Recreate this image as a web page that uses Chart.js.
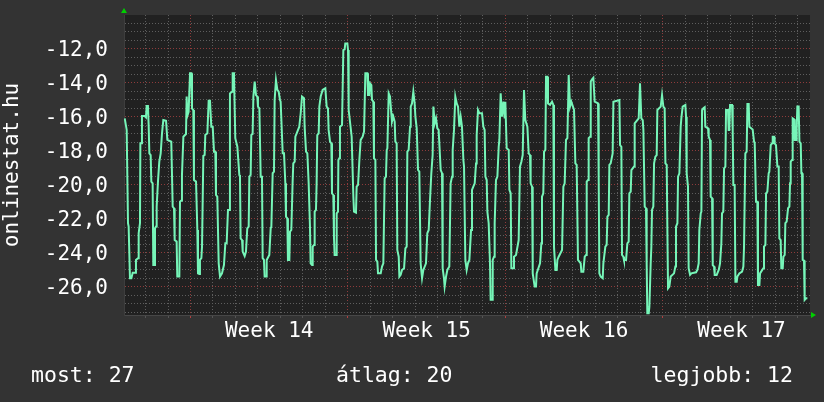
<!DOCTYPE html>
<html>
<head>
<meta charset="utf-8">
<title>onlinestat.hu</title>
<script src="https://cdn.jsdelivr.net/npm/chart.js@4.4.1/dist/chart.umd.min.js"></script>
<style>
  html, body { margin: 0; padding: 0; background: #333333; }
  #wrap { position: relative; width: 824px; height: 402px; overflow: hidden; }
  canvas { display: block; }
  .stat {
    position: absolute; top: 363px; line-height: 24px;
    font-family: "DejaVu Sans Mono", monospace; font-size: 21.5px;
    color: #ffffff; white-space: pre;
  }
</style>
</head>
<body>
<div id="wrap">
  <canvas id="chart" width="824" height="402"></canvas>
  <div class="stat" id="stat0" style="left:31px"></div>
  <div class="stat" id="stat1" style="left:336px"></div>
  <div class="stat" id="stat2" style="right:31px"></div>
</div>
<script>
// hours since the start of Week 14
const hours = [
  -70.2, -68.1, -66.7, -66.0, -64.6, -63.1, -61.7, -58.9, -58.2, -56.0, -55.3, -53.9, -53.5, -52.5, -51.8, -48.9,
  -47.5, -46.8, -45.4, -44.6, -43.9, -42.5, -41.8, -40.4, -39.7, -38.2, -37.9, -36.8, -36.1, -34.7, -33.3, -31.8,
  -30.4, -29.0, -26.1, -24.7, -20.5, -19.0, -17.6, -16.9, -14.8, -14.1, -11.9, -11.2, -9.8, -9.1, -7.6, -4.8,
  -4.1, -3.4, -2.0, -0.5, 0.9, 1.6, 3.0, 3.7, 5.9, 7.3, 8.0, 9.4, 10.1, 11.6, 12.3, 13.7,
  15.1, 15.8, 18.0, 19.4, 20.8, 22.2, 23.7, 25.1, 26.5, 27.2, 28.6, 30.1, 31.5, 33.6, 35.7, 37.2,
  38.6, 40.0, 41.4, 42.1, 44.3, 45.0, 46.4, 47.8, 50.0,
  52.1, 52.8, 53.5, 55.0, 55.7, 57.8, 59.2, 60.6, 62.1, 62.8, 64.2, 64.9, 66.3, 67.1, 68.5, 69.9,
  71.3, 72.0, 73.5, 74.9, 76.3, 77.0, 78.4, 79.1, 80.6, 81.3, 84.1, 85.6, 86.3, 87.7, 89.1, 89.8,
  91.2, 92.7, 94.1, 95.5, 96.2, 98.4, 99.8, 101.2, 101.9, 103.3, 104.0, 105.5, 106.2, 107.6, 109.0, 109.7,
  111.2, 111.9, 113.3, 116.1, 117.6, 119.0, 121.1, 121.8, 123.3, 124.7, 126.1, 127.5, 128.2, 129.7, 130.4, 131.8,
  132.5, 133.9, 134.6, 135.3, 136.8, 137.5, 138.9, 141.0, 143.9, 145.3, 146.7, 147.4, 148.9, 150.3, 151.0, 152.4,
  153.1, 153.8, 155.3, 156.0, 157.4, 157.8, 158.8, 159.5, 161.7, 163.1, 164.5, 165.2, 167.4, 168.1, 168.8, 172.0,
  173.8,
  174.5, 176.6, 177.3, 178.8, 180.2, 181.6, 183.7, 185.2, 186.6, 188.7, 189.4, 190.9, 191.6, 193.0, 193.7, 195.1,
  195.8, 197.3, 198.0, 199.4, 200.1, 203.0, 204.4, 205.8, 207.2, 208.6, 209.4, 210.1, 211.5, 212.9, 214.3, 215.0,
  216.5, 217.9, 218.6, 220.0, 220.7, 222.2, 222.9, 224.3, 225.7, 227.9, 229.3, 230.7, 231.4, 232.8, 234.3, 235.0,
  236.4, 237.8, 239.2, 240.0, 241.4, 242.8, 244.2, 245.6, 247.1, 248.5, 251.3, 252.7, 254.2, 255.6, 257.0, 258.4,
  259.2, 260.6, 262.0, 263.4, 264.8, 267.0, 268.4, 269.1, 270.5, 271.2, 272.7, 274.1, 276.2, 277.6, 279.1, 279.8,
  281.2, 282.6, 284.1, 285.5, 286.9, 288.3, 289.7, 291.2, 291.9, 293.3, 294.7, 296.1, 297.6, 299.4,
  300.4, 301.8, 303.3, 304.7, 305.4, 306.8, 308.2, 311.1, 312.5, 313.9, 314.7, 316.1, 316.8, 318.2, 319.6, 320.3,
  321.8, 322.5, 323.9, 324.6, 326.0, 327.5, 328.9, 329.6, 331.0, 332.4, 333.9, 335.3, 336.0, 337.4, 339.6, 340.3,
  341.7, 342.4, 344.5, 345.2, 347.4, 350.2, 351.6, 353.1, 354.5, 355.9, 357.3, 359.5, 360.9, 362.3, 363.0, 364.5,
  365.2, 367.3, 368.7, 369.4, 373.0, 374.4, 375.1, 376.5, 377.3, 378.7, 379.4, 380.8, 381.5, 383.7, 385.8, 387.2,
  387.9, 389.4, 390.8, 391.5, 392.9, 396.5, 397.9, 399.3, 400.7, 402.2, 403.6, 405.0, 406.4, 409.3, 410.7, 412.1,
  413.5, 416.4, 417.1, 419.2, 420.7, 422.1,
  422.8, 424.2, 424.9, 426.4, 427.1, 428.5, 429.9, 431.3, 434.9, 435.6, 436.3, 437.7, 439.9, 440.6, 442.7, 444.1,
  444.9, 446.3, 447.0, 448.4, 450.5, 451.3, 457.7, 458.4, 459.8, 460.5, 461.9, 462.6, 464.8, 466.2, 467.6, 468.3,
  469.8, 470.5, 473.3, 474.0, 478.3, 479.7, 481.1, 482.6, 483.3, 484.7, 486.1, 486.8, 487.5, 489.0, 489.7, 491.1,
  491.8, 492.5, 493.9, 494.7, 496.1, 497.5, 498.2, 501.8, 503.2, 504.6, 506.0, 506.8, 508.2, 508.9, 509.6, 511.0,
  512.4, 516.0, 517.4, 518.1, 519.6, 520.3, 521.7, 523.1, 523.8, 525.2, 528.1, 528.8, 529.5, 530.9, 531.6, 533.1,
  534.5, 539.5, 540.9, 542.3, 543.0, 544.5, 545.2, 545.9, 547.3,
  548.7, 549.4, 552.3, 553.0, 554.4, 555.1, 556.6, 557.3, 558.7, 559.4, 561.5, 563.7, 565.1, 566.5, 567.2, 568.6,
  569.4, 570.8, 571.5, 573.6, 574.3, 575.0, 575.8, 577.9, 578.6, 579.3, 580.7, 581.5, 582.9, 583.6, 585.7, 588.6,
  590.0, 590.7, 592.1, 593.5, 594.3, 595.7, 596.4, 599.9, 601.4, 602.1, 603.5, 604.9, 605.6, 607.1, 607.8, 611.3,
  612.0, 613.5, 614.2, 615.6, 617.0, 617.7, 619.2, 620.6, 621.3, 622.7, 623.4, 624.8, 626.3, 627.7, 628.4, 629.8,
  630.5, 632.0, 632.7, 634.1, 634.8, 636.2, 637.7, 639.1, 639.8, 640.5, 641.9, 642.6, 644.1, 644.8, 646.2, 646.9,
  647.6, 649.0, 649.8, 651.2, 651.9, 652.6, 653.3, 654.7, 655.4, 656.9, 658.3
];

// negated rank on onlinestat.hu
const rank = [
  -16.08, -16.76, -22.25, -22.45, -25.49, -25.49, -25.16, -25.16, -24.41, -24.31, -22.84, -22.25, -17.55, -17.55, -15.94, -15.94,
  -16.02, -15.35, -15.35, -16.57, -18.14, -18.24, -19.80, -19.90, -24.71, -24.71, -22.55, -22.45, -21.27, -19.80, -18.63, -18.14,
  -16.96, -16.18, -16.22, -17.35, -17.45, -21.27, -21.37, -23.24, -23.33, -25.39, -25.39, -20.98, -20.92, -19.41, -17.16, -17.00,
  -14.80, -15.94, -15.69, -13.43, -13.43, -15.49, -15.59, -19.71, -19.80, -22.65, -25.20, -25.24, -24.41, -24.31, -23.63, -18.29,
  -18.24, -17.06, -16.96, -15.04, -15.04, -16.57, -16.57, -18.04, -18.04, -20.59, -20.69, -24.61, -25.39, -25.20, -24.71, -23.43,
  -23.43, -21.47, -21.47, -14.61, -14.51, -13.43, -13.43, -17.25, -17.75,
  -19.41, -19.51, -23.14, -23.24, -23.92, -24.18, -23.92, -22.55, -22.45, -19.51, -19.41, -17.06, -17.00, -14.80, -13.92, -14.71,
  -14.80, -15.39, -15.49, -19.51, -19.51, -24.31, -24.41, -25.39, -25.39, -24.41, -24.12, -22.55, -22.45, -19.31, -19.22, -15.00,
  -13.82, -14.41, -14.51, -15.00, -15.10, -18.14, -18.14, -19.90, -21.86, -21.96, -24.41, -24.41, -22.75, -22.65, -19.80, -18.73,
  -18.63, -17.16, -16.96, -16.57, -15.78, -14.80, -14.90, -16.57, -18.04, -18.14, -19.90, -22.45, -24.61, -24.71, -23.63, -23.53,
  -21.57, -21.47, -19.90, -17.06, -16.96, -15.39, -14.80, -14.41, -14.31, -15.39, -15.49, -16.76, -17.45, -17.55, -20.49, -20.59,
  -23.04, -24.12, -24.12, -21.67, -21.57, -18.53, -18.43, -16.57, -16.47, -12.06, -12.02, -11.67, -11.67, -12.06, -15.59, -17.16,
  -20.69,
  -21.57, -21.63, -20.10, -20.00, -18.53, -17.35, -17.16, -16.86, -13.43, -13.43, -14.71, -14.71, -14.02, -14.12, -15.00, -15.10,
  -18.43, -18.53, -24.41, -24.51, -25.20, -25.20, -24.80, -24.61, -19.61, -19.51, -17.94, -17.84, -14.61, -14.80, -15.78, -16.27,
  -15.98, -16.27, -17.45, -17.55, -23.82, -24.22, -25.39, -25.29, -25.00, -24.90, -23.73, -23.63, -18.04, -17.94, -16.57, -15.39,
  -15.20, -14.51, -15.20, -15.98, -16.67, -19.12, -19.22, -24.61, -25.49, -25.00, -24.61, -22.84, -22.65, -20.88, -19.31, -18.24,
  -15.39, -16.37, -16.08, -16.67, -16.76, -19.12, -19.31, -24.90, -25.49, -25.98, -25.39, -25.00, -24.80, -19.90, -19.51, -17.94,
  -16.76, -14.80, -15.20, -15.39, -16.57, -15.98, -16.57, -18.53, -18.92, -24.41, -25.00, -24.61, -24.41, -22.65,
  -20.29, -20.10, -19.90, -18.73, -17.06, -15.59, -15.78, -15.78, -16.57, -16.76, -19.51, -19.71, -21.57, -22.25, -24.61, -26.76,
  -26.76, -24.41, -24.22, -22.25, -19.71, -19.51, -17.75, -17.35, -14.61, -15.98, -15.10, -16.08, -15.10, -17.84, -17.94, -20.29,
  -20.49, -24.90, -24.90, -24.22, -24.12, -23.24, -18.92, -18.63, -18.24, -14.41, -16.18, -16.57, -18.14, -18.24, -19.90, -20.10,
  -25.20, -25.98, -25.98, -25.20, -24.61, -23.43, -20.69, -20.49, -18.04, -17.94, -13.63, -13.63, -15.20, -15.29, -15.10, -15.29,
  -23.63, -25.00, -25.00, -24.41, -24.22, -23.82, -20.10, -19.90, -17.35, -17.25, -13.53, -15.39, -15.10, -15.59, -18.73, -18.82,
  -24.41, -24.61, -25.10, -25.10, -24.22, -24.12,
  -19.80, -19.71, -17.25, -17.16, -13.92, -13.78, -13.69, -15.10, -15.20, -19.51, -25.20, -25.39, -25.49, -24.61, -23.63, -23.53,
  -21.86, -21.76, -18.82, -18.73, -18.14, -15.10, -15.00, -17.65, -17.75, -24.12, -24.22, -24.41, -24.41, -23.43, -23.33, -20.49,
  -20.39, -19.12, -18.92, -16.37, -16.08, -14.02, -16.08, -16.18, -16.76, -21.27, -21.37, -24.61, -27.55, -27.55, -27.16, -24.61,
  -23.63, -21.47, -21.27, -18.73, -18.33, -18.24, -15.59, -15.39, -14.71, -15.39, -15.49, -18.73, -18.82, -22.65, -26.08, -25.98,
  -25.39, -25.20, -24.80, -22.45, -22.25, -19.51, -19.31, -16.57, -16.08, -15.39, -15.29, -15.98, -19.31, -20.10, -24.90, -25.29,
  -25.20, -25.14, -25.00, -24.61, -22.65, -21.67, -21.57, -15.59, -15.49,
  -15.43, -16.57, -16.67, -17.16, -17.35, -20.69, -20.78, -24.71, -24.80, -25.29, -25.29, -25.00, -24.61, -23.43, -21.67, -21.57,
  -19.02, -18.92, -15.59, -15.59, -16.76, -16.76, -15.29, -15.29, -16.76, -20.00, -20.00, -25.69, -25.69, -25.39, -25.20, -25.10,
  -24.80, -23.63, -18.14, -18.04, -15.24, -15.24, -16.57, -16.73, -17.45, -17.55, -20.98, -20.98, -25.88, -25.88, -25.20, -24.90,
  -23.63, -23.53, -20.49, -20.39, -19.31, -19.22, -17.65, -17.55, -17.16, -17.16, -17.55, -17.65, -18.92, -18.92, -23.14, -23.24,
  -24.90, -24.90, -24.22, -24.12, -22.25, -22.16, -21.37, -21.27, -19.90, -18.63, -18.53, -16.08, -16.14, -17.35, -17.35, -16.67,
  -15.39, -15.39, -17.45, -17.55, -19.31, -19.31, -24.41, -24.45, -26.76, -26.67, -26.67
];

const weekNames = ["Week 14", "Week 15", "Week 16", "Week 17"];
const weekMidHours = [84, 252, 420, 588];
const dayLineHours = [-48, -24, 0, 24, 48, 72, 96, 120, 144, 168, 192, 216, 240, 264, 288, 312, 336,
  360, 384, 408, 432, 456, 480, 504, 528, 552, 576, 600, 624, 648];
const statTexts = ["most: 27", "átlag: 20", "legjobb: 12"];

const X_MIN = -70.96, X_MAX = 661.1;
const Y_MIN = -27.65, Y_MAX = -10;

statTexts.forEach((t, i) => { document.getElementById("stat" + i).textContent = t; });

const MONO = "'DejaVu Sans Mono', monospace";
const MINOR = "#5e5e5e";
const MAJOR = "#8e3b3b";
const NONE = "rgba(0,0,0,0)";

const points = hours.map((h, i) => ({ x: h, y: rank[i] }));

const yTicks = [];
for (let k = -55; k <= -21; k++) yTicks.push(k / 2);

const xTicks = dayLineHours.concat(weekMidHours).sort((a, b) => a - b);

function isWeekLine(v) { return v % 168 === 0; }
function isMajorY(v) { return Number.isInteger(v) && v % 2 === 0 && v >= -26 && v <= -12; }

const frame = {
  id: "frame",
  beforeDraw(chart) {
    const { ctx, chartArea: a } = chart;
    ctx.save();
    ctx.fillStyle = "#333333";
    ctx.fillRect(0, 0, chart.width, chart.height);
    ctx.fillStyle = "#212121";
    ctx.fillRect(a.left, a.top, a.right - a.left, a.bottom - a.top);
    ctx.restore();
  },
  afterDraw(chart) {
    const { ctx, chartArea: a } = chart;
    ctx.save();
    ctx.fillStyle = "#00d000";
    ctx.beginPath();
    ctx.moveTo(a.left - 3, a.top - 2);
    ctx.lineTo(a.left + 3, a.top - 2);
    ctx.lineTo(a.left, a.top - 7);
    ctx.fill();
    ctx.beginPath();
    ctx.moveTo(a.right + 1, a.bottom - 3);
    ctx.lineTo(a.right + 1, a.bottom + 3);
    ctx.lineTo(a.right + 6, a.bottom);
    ctx.fill();
    ctx.restore();
  }
};

new Chart(document.getElementById("chart"), {
  type: "line",
  data: {
    datasets: [{
      data: points,
      borderColor: "#76f5b8",
      borderWidth: 2,
      pointRadius: 0,
      tension: 0,
      fill: false
    }]
  },
  options: {
    responsive: false,
    animation: false,
    layout: { padding: { left: 0, top: 15, right: 14, bottom: 0 } },
    plugins: { legend: { display: false }, tooltip: { enabled: false } },
    scales: {
      x: {
        type: "linear",
        min: X_MIN,
        max: X_MAX,
        afterFit: s => { s.height = 87; s.paddingLeft = 0; s.paddingRight = 0; },
        afterBuildTicks: s => { s.ticks = xTicks.map(v => ({ value: v })); },
        ticks: {
          autoSkip: false,
          maxRotation: 0,
          padding: 1,
          color: "#ffffff",
          font: { family: MONO, size: 21 },
          callback: v => {
            const i = weekMidHours.indexOf(v);
            return i >= 0 ? weekNames[i] : "";
          }
        },
        grid: {
          lineWidth: 1,
          tickLength: 3,
          color: c => weekMidHours.includes(c.tick.value) ? NONE : (isWeekLine(c.tick.value) ? MAJOR : MINOR),
          tickColor: c => weekMidHours.includes(c.tick.value) ? NONE : (isWeekLine(c.tick.value) ? "#b04040" : "#555555")
        },
        border: { display: true, color: "#474747", width: 1, dash: [1, 2] }
      },
      y: {
        type: "linear",
        min: Y_MIN,
        max: Y_MAX,
        afterFit: s => { s.width = 124; s.paddingTop = 0; s.paddingBottom = 0; },
        afterBuildTicks: s => { s.ticks = yTicks.map(v => ({ value: v })); },
        ticks: {
          autoSkip: false,
          padding: 13,
          labelOffset: 1.5,
          color: "#ffffff",
          font: { family: MONO, size: 21 },
          callback: v => isMajorY(v) ? v.toFixed(1).replace(".", ",") : ""
        },
        grid: {
          lineWidth: 1,
          tickLength: 3,
          color: c => isMajorY(c.tick.value) ? MAJOR : MINOR,
          tickColor: NONE
        },
        border: { display: true, color: "#3e3e3e", width: 1, dash: [1, 2] },
        title: {
          display: true,
          text: "onlinestat.hu",
          color: "#ffffff",
          font: { family: MONO, size: 21 },
          padding: { top: 0, bottom: 0 }
        }
      }
    }
  },
  plugins: [frame]
});
</script>
</body>
</html>
